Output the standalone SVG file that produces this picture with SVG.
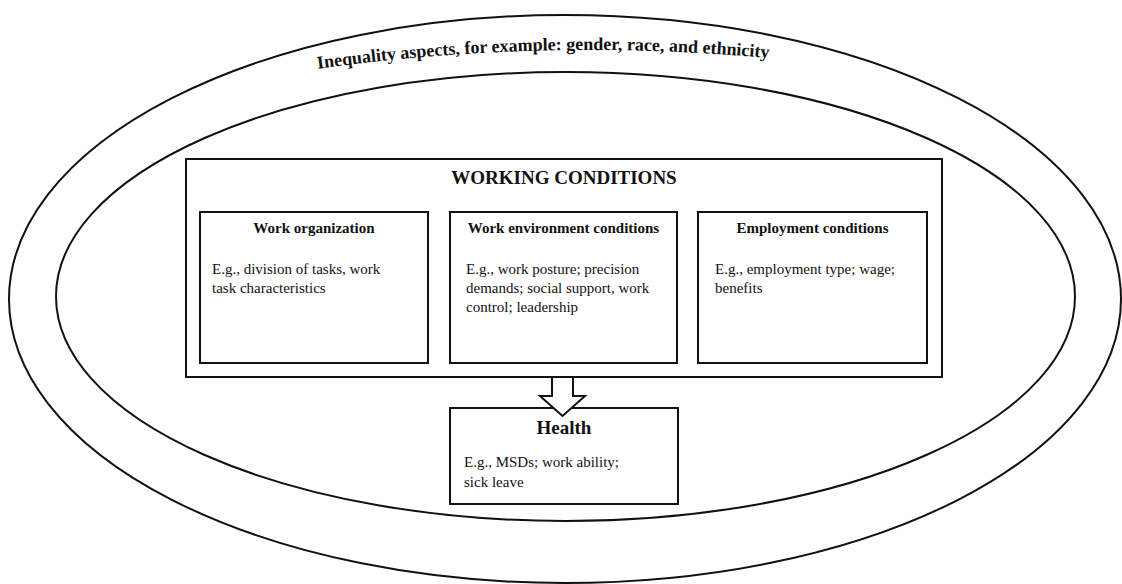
<svg xmlns="http://www.w3.org/2000/svg" width="1122" height="584" viewBox="0 0 1122 584">
  <style>
    .line { fill: none; stroke: #111; stroke-width: 2; }
    .box { fill: #fff; stroke: #111; stroke-width: 2; }
    .t { font-family: "Liberation Serif", "Times New Roman", serif; fill: #111; }
    .b { font-weight: bold; }
    .h { font-size: 15px; font-weight: bold; text-anchor: middle; }
    .body { font-size: 15px; }
  </style>
  <defs>
    <path id="arcText" d="M300,71.2 Q550,34.7 800,61.1"/>
  </defs>
  <g id="outer-ellipse">
    <ellipse class="line" cx="565" cy="299" rx="556" ry="284"/>
    <text class="t b" font-size="18"><textPath href="#arcText" startOffset="18">Inequality aspects, for example: gender, race, and ethnicity</textPath></text>
  </g>
  <g id="inner-ellipse">
    <ellipse class="line" cx="565.5" cy="296.5" rx="509.5" ry="224.5"/>
  </g>
  <g id="working-conditions">
    <rect class="box" x="186" y="159" width="756" height="218"/>
    <text class="t b" x="564" y="184" font-size="19" text-anchor="middle">WORKING CONDITIONS</text>
  </g>
  <g id="work-organization">
    <rect class="box" x="200" y="212" width="228" height="151"/>
    <text class="t h" x="314" y="233">Work organization</text>
    <text class="t body" x="212" y="274">E.g., division of tasks, work</text>
    <text class="t body" x="212" y="293">task characteristics</text>
  </g>
  <g id="work-environment">
    <rect class="box" x="450" y="212" width="227" height="151"/>
    <text class="t h" x="563.5" y="233">Work environment conditions</text>
    <text class="t body" x="466" y="274">E.g., work posture; precision</text>
    <text class="t body" x="466" y="293">demands; social support, work</text>
    <text class="t body" x="466" y="312">control; leadership</text>
  </g>
  <g id="employment-conditions">
    <rect class="box" x="698" y="212" width="229" height="151"/>
    <text class="t h" x="812.5" y="233">Employment conditions</text>
    <text class="t body" x="715" y="274">E.g., employment type; wage;</text>
    <text class="t body" x="715" y="293">benefits</text>
  </g>
  <g id="health">
    <rect class="box" x="450" y="408" width="228" height="96"/>
    <text class="t b" x="564" y="434" font-size="19" text-anchor="middle">Health</text>
    <text class="t body" x="464" y="467">E.g., MSDs; work ability;</text>
    <text class="t body" x="464" y="487">sick leave</text>
  </g>
  <g id="connectors">
    <polygon class="box" points="552,377 573,377 573,396 585,396 562.5,416 540,396 552,396"/>
  </g>
</svg>
